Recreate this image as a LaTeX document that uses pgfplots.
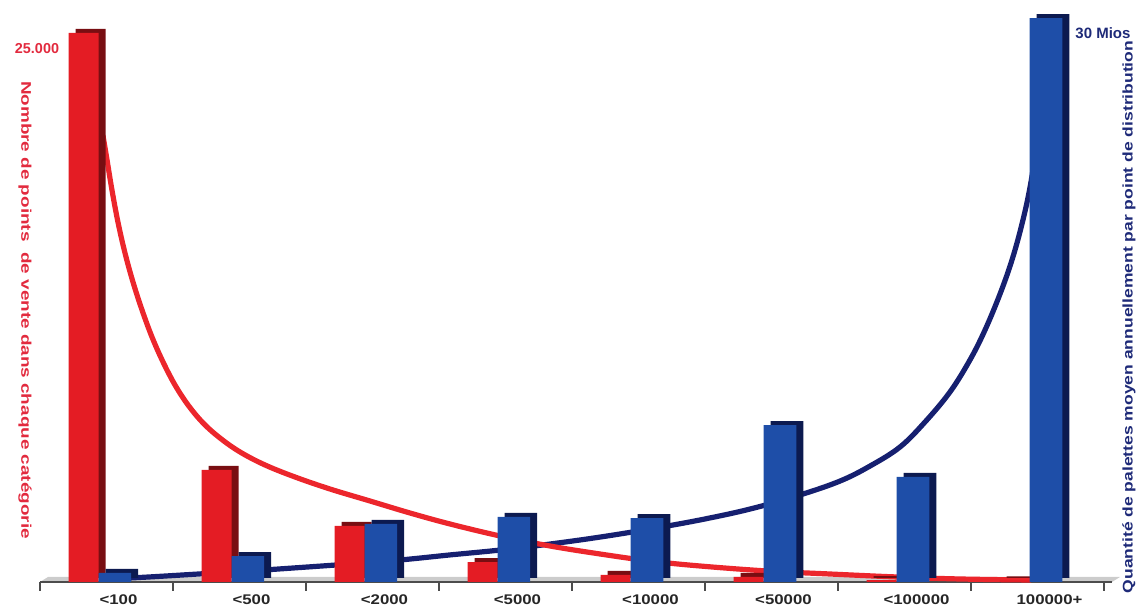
\documentclass[border=0pt]{standalone}
\usepackage{fontspec}
\setmainfont{Liberation Sans}
\usepackage{graphicx}
\usepackage{pgfplots}
\usepackage{pgfplotstable}
\pgfplotsset{compat=1.18}

\definecolor{barred}{RGB}{228,28,36}
\definecolor{barredside}{RGB}{120,14,18}
\definecolor{barblue}{RGB}{30,78,168}
\definecolor{barblueside}{RGB}{12,26,80}
\definecolor{curvered}{RGB}{236,38,44}
\definecolor{curveblue}{RGB}{22,32,112}
\definecolor{txtred}{RGB}{226,42,62}
\definecolor{txtblue}{RGB}{30,42,120}

\pgfplotstableread{
x red blue
0 25000 0.48
1 5100 1.38
2 2550 3.09
3 910 3.46
4 320 3.40
5 230 8.35
6 90 5.59
7 70 30
}\bars

\pgfplotstableread{
x y
-0.026 20311
0.004 19218
0.041 17852
0.086 16394
0.139 14983
0.199 13662
0.267 12387
0.342 11157
0.425 10019
0.515 8971
0.613 8061
0.726 7241
0.853 6558
1.004 5920
1.192 5328
1.417 4782
1.680 4235
1.981 3689
2.282 3142
2.583 2641
2.959 2095
3.335 1639
3.711 1275
4.087 956
4.462 729
4.966 501
5.440 364
5.944 228
6.417 137
6.944 91
}\redcurve

\pgfplotstableread{
x y
0.026 0.16
0.327 0.27
0.703 0.43
1.079 0.59
1.455 0.77
1.831 0.96
2.207 1.17
2.583 1.44
2.959 1.70
3.335 2.02
3.711 2.39
4.087 2.82
4.462 3.30
4.838 3.88
5.214 4.63
5.515 5.37
5.741 6.17
5.966 7.18
6.154 8.51
6.342 10.11
6.492 11.81
6.605 13.40
6.718 15.32
6.808 17.13
6.883 19.04
6.944 21.01
6.996 23.40
7.041 26.06
}\bluecurve

\pgfplotsset{
  common/.style={
    at={(20pt,14pt)}, anchor=south west,
    width=536pt, height=286pt, scale only axis,
    xmin=-0.5, xmax=7.56, ymin=0,
    clip=false,
  },
  hiddenax/.style={axis lines=none, xtick=\empty, ytick=\empty},
}

\begin{document}
\begin{tikzpicture}
\useasboundingbox (0,0) rectangle (568.5pt,305pt);

% axis 1: floor + blue curve
\begin{axis}[common, hiddenax, ymax=30.43]
  \fill[gray!40] (axis cs:-0.5,0) -- (axis cs:7.56,0) -- ([xshift=4pt,yshift=2.5pt]axis cs:7.56,0) -- ([xshift=4pt,yshift=2.5pt]axis cs:-0.5,0) -- cycle;
  \addplot[curveblue, line width=2.6pt, line cap=round, smooth, tension=0.6] table[x=x,y=y] {\bluecurve};
\end{axis}

% axis 2: red scale, x axis, red curve, red bars
\begin{axis}[common, ymax=26047,
  axis x line*=bottom, axis y line=none,
  axis line style={-, gray!60!black, line width=0.8pt},
  xtick={0,...,7},
  xticklabels={{\scalebox{1.2}[1]{<100}},{\scalebox{1.2}[1]{<500}},{\scalebox{1.2}[1]{<2000}},{\scalebox{1.2}[1]{<5000}},{\scalebox{1.2}[1]{<10000}},{\scalebox{1.2}[1]{<50000}},{\scalebox{1.2}[1]{<100000}},{\scalebox{1.2}[1]{100000+}}},
  minor xtick={-0.5,0.5,...,7.5},
  ytick=\empty,
  major tick length=0pt, minor tick length=4.5pt, tick align=outside,
  tick style={gray!60!black, line width=0.7pt},
  xticklabel style={font=\bfseries\fontsize{7}{8}\selectfont, text=black!85, xshift=6pt, yshift=-3pt},
]
  \addplot[curvered, line width=2.6pt, line cap=round, smooth, tension=0.6] table[x=x,y=y] {\redcurve};
  \addplot[ybar, bar width=0.224, bar shift=-0.172, fill=barredside, draw=none, xshift=3.5pt, yshift=2pt] table[x=x,y=red] {\bars};
  \addplot[ybar, bar width=0.224, bar shift=-0.172, fill=barred, draw=none] table[x=x,y=red] {\bars};
\end{axis}

% axis 3: blue scale, blue bars
\begin{axis}[common, hiddenax, ymax=30.43]
  \addplot[ybar, bar width=0.246, bar shift=0.063, fill=barblueside, draw=none, xshift=3.5pt, yshift=2pt] table[x=x,y=blue] {\bars};
  \addplot[ybar, bar width=0.246, bar shift=0.063, fill=barblue, draw=none] table[x=x,y=blue] {\bars};
\end{axis}

% texts
\node[text=txtred, font=\bfseries\fontsize{7.2}{8}\selectfont] at (18.5pt,280.5pt) {25.000};
\node[text=txtred, rotate=-90] at (12.5pt,150pt) {\scalebox{1.35}[1]{\bfseries\fontsize{7}{8}\selectfont Nombre de points\ \ de vente dans chaque catégorie}};
\node[text=txtblue, font=\bfseries\fontsize{7.5}{8}\selectfont] at (551.5pt,288.5pt) {30 Mios};
\node[text=txtblue, rotate=90, anchor=base] at (566.3pt,146.5pt) {\scalebox{1.25}[1]{\bfseries\fontsize{7}{8}\selectfont Quantité de palettes moyen annuellement par point de distribution}};
\end{tikzpicture}
\end{document}
